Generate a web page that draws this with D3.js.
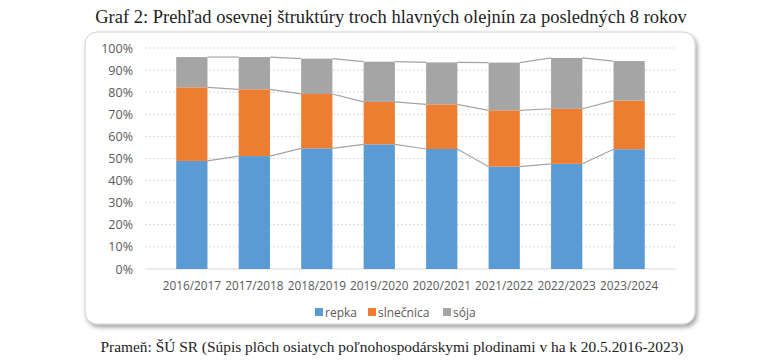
<!DOCTYPE html>
<html><head><meta charset="utf-8">
<script src="https://cdn.jsdelivr.net/npm/d3@7"></script>
<style>body{margin:0;background:#fff}svg{display:block}</style>
</head><body>
<svg id="c" width="776" height="364"></svg>
<script>
const categories = ["2016/2017","2017/2018","2018/2019","2019/2020","2020/2021","2021/2022","2022/2023","2023/2024"];
const repka = [48.9, 51.1, 54.6, 56.4, 54.3, 46.3, 47.6, 54.2];
const slnecnica = [33.3, 30.2, 24.6, 19.2, 20.2, 25.5, 24.9, 22.0];
const soja = [13.7, 14.6, 16.0, 18.2, 19.0, 21.6, 23.0, 17.9];
const seriesNames = ["repka","slnečnica","sója"];
const colors = ["#5b9bd5","#ed7d31","#a5a5a5"];
const yTicks = [0,10,20,30,40,50,60,70,80,90,100];

const svg = d3.select("#c");
const defs = svg.append("defs");
const f = defs.append("filter").attr("id","sh").attr("x","-5%").attr("y","-5%").attr("width","110%").attr("height","115%");
f.append("feDropShadow").attr("dx",2).attr("dy",3).attr("stdDeviation",2).attr("flood-color","#000").attr("flood-opacity",0.35);

svg.append("text").attr("x",391).attr("y",23).attr("text-anchor","middle")
  .attr("font-family","Liberation Serif").attr("font-size",18.5).attr("fill","#222")
  .text("Graf 2: Prehľad osevnej štruktúry troch hlavných olejnín za posledných 8 rokov");

svg.append("rect").attr("x",85).attr("y",32).attr("width",610).attr("height",292).attr("rx",12)
  .attr("fill","#fff").attr("stroke","#d0d0d0").attr("filter","url(#sh)");

svg.append("text").attr("x",392).attr("y",352).attr("text-anchor","middle")
  .attr("font-family","Liberation Serif").attr("font-size",15.4).attr("fill","#222")
  .text("Prameň: ŠÚ SR (Súpis plôch osiatych poľnohospodárskymi plodinami v ha k 20.5.2016-2023)");

const x = d3.scaleBand().domain(categories).range([145,676]).padding(0.5);
const y = d3.scaleLinear().domain([0,100]).range([269,48]);

const g = svg.append("g");
g.selectAll("line.grid").data(yTicks.filter(d=>d>0)).join("line")
  .attr("x1",145).attr("x2",676).attr("y1",d=>y(d)).attr("y2",d=>y(d))
  .attr("stroke","#d9d9d9").attr("stroke-dasharray","2,2");
g.append("line").attr("x1",145).attr("x2",676).attr("y1",y(0)).attr("y2",y(0)).attr("stroke","#d9d9d9");

const yAxis = g.append("g").attr("transform","translate(133,0)")
  .call(d3.axisLeft(y).tickValues(yTicks).tickFormat(d=>d+"%").tickSize(0).tickPadding(0));
yAxis.select(".domain").remove();
yAxis.selectAll("text").attr("font-family","Open Sans").attr("font-size",12.5).attr("fill","#595959");

const xAxis = g.append("g").attr("transform","translate(0,"+y(0)+")")
  .call(d3.axisBottom(x).tickSize(0).tickPadding(13));
xAxis.select(".domain").remove();
xAxis.selectAll("text").attr("font-family","Open Sans").attr("font-size",11.8).attr("fill","#595959");

const data = categories.map((c,i)=>({cat:c, repka:repka[i], "slnečnica":slnecnica[i], "sója":soja[i]}));
const stacked = d3.stack().keys(seriesNames)(data);

stacked.forEach((s,si)=>{
  for(let i=0;i<s.length-1;i++){
    g.append("line")
      .attr("x1",x(categories[i])+x.bandwidth()).attr("y1",y(s[i][1]))
      .attr("x2",x(categories[i+1])).attr("y2",y(s[i+1][1]))
      .attr("stroke","#a5a5a5").attr("stroke-width",1.2);
  }
});

stacked.forEach((s,si)=>{
  g.selectAll(null).data(s).join("rect")
    .attr("x",d=>x(d.data.cat)).attr("width",x.bandwidth())
    .attr("y",d=>y(d[1])).attr("height",d=>y(d[0])-y(d[1]))
    .attr("fill",colors[si]);
});

const legX = [315, 368, 443];
const leg = g.selectAll("g.leg").data(seriesNames).join("g").attr("transform",(d,i)=>"translate("+legX[i]+",312)");
leg.append("rect").attr("x",0).attr("y",-4).attr("width",8).attr("height",8).attr("fill",(d,i)=>colors[i]);
leg.append("text").attr("x",10).attr("y",4.5).attr("font-family","Open Sans").attr("font-size",12).attr("fill","#595959").text(d=>d);
</script>
</body></html>
